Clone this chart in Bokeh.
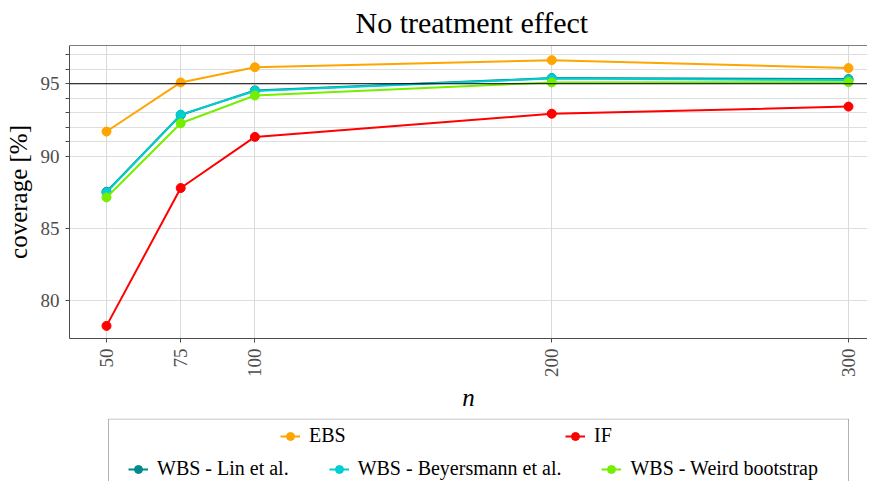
import math
from bokeh.plotting import figure
from bokeh.models import (FixedTicker, Span, Legend, LegendItem, ColumnDataSource, Range1d, BoxAnnotation)
from bokeh.layouts import column
from bokeh.embed import file_html
from bokeh.resources import INLINE

# ---- data ----
n = [50, 75, 100, 200, 300]
ebs = [91.70, 95.09, 96.14, 96.63, 96.08]
inf_fun = [78.28, 87.80, 91.33, 92.93, 93.42]
wbs_lin = [87.54, 92.84, 94.54, 95.39, 95.32]
wbs_bey = [87.50, 92.87, 94.50, 95.36, 95.25]
wbs_weird = [87.15, 92.27, 94.19, 95.09, 95.11]

series_names = ["EBS", "IF", "WBS - Lin et al.", "WBS - Beyersmann et al.", "WBS - Weird bootstrap"]
series_values = [ebs, inf_fun, wbs_lin, wbs_bey, wbs_weird]
series_colors = ["#FFA500", "#FF0000", "#008B8B", "#00CED1", "#76EE00"]

y_ticks = [80, 85, 90, 91, 92, 93, 94, 95, 96, 97]
y_tick_labels = {80: "80", 85: "85", 90: "90", 95: "95"}
x_ticks = [50, 75, 100, 200, 300]
target = 95

title = "No treatment effect"
x_label = "n"
y_label = "coverage [%]"

X_RANGE = (37.53, 306.4)
Y_RANGE = (77.41, 97.64)

SERIF = "'Liberation Serif', serif"

p = figure(width=867, height=418, x_range=Range1d(*X_RANGE), y_range=Range1d(*Y_RANGE),
           output_backend="svg", toolbar_location=None,
           min_border_left=69, min_border_right=0, min_border_top=44, min_border_bottom=80,
           title=title)
p.outline_line_color = None
p.background_fill_color = "white"

p.title.align = "left"
p.title.offset = 286
p.title.text_font = SERIF
p.title.text_font_size = "30px"
p.title.text_font_style = "normal"
p.title.text_color = "black"
p.title.standoff = 10
p.title.vertical_align = "top"

# axes
p.yaxis.ticker = FixedTicker(ticks=y_ticks)
p.yaxis.major_label_overrides = {t: y_tick_labels.get(t, "") for t in y_ticks}
p.xaxis.ticker = FixedTicker(ticks=x_ticks)
p.xaxis.major_label_orientation = math.pi / 2
for ax in (p.xaxis, p.yaxis):
    ax.axis_line_color = "#4d4d4d"
    ax.major_tick_line_color = "#4d4d4d"
    ax.major_tick_out = 4
    ax.major_tick_in = 0
    ax.minor_tick_line_color = None
    ax.major_label_text_font = SERIF
    ax.major_label_text_font_size = "19px"
    ax.major_label_text_font_style = "normal"
    ax.major_label_text_color = "#4d4d4d"
    ax.axis_label_text_font = SERIF
    ax.axis_label_text_font_size = "25px"
    ax.axis_label_text_color = "black"
    ax.major_label_standoff = 6
p.yaxis.axis_label = y_label
p.yaxis.axis_label_text_font_style = "normal"
p.yaxis.axis_label_standoff = 6
p.xaxis.axis_label = x_label
p.xaxis.axis_label_text_font_style = "italic"
p.xaxis.axis_label_standoff = 4

p.xgrid.grid_line_color = "#d9d9d9"
p.ygrid.grid_line_color = "#dedede"

# top border and target line
p.add_layout(Span(location=Y_RANGE[1], dimension="width", line_color="black", line_width=1.2))
p.add_layout(Span(location=target, dimension="width", line_color="black", line_width=1))

for name, vals, col in zip(series_names, series_values, series_colors):
    src = ColumnDataSource(dict(x=n, y=vals))
    p.line("x", "y", source=src, line_color=col, line_width=2)
    p.scatter("x", "y", source=src, size=9, fill_color=col, line_color=col)

# ---- legend panel (frame aligned with the main plot; ranges in pixels) ----
p2 = figure(width=867, height=63, x_range=Range1d(0, 798), y_range=Range1d(0, 63),
            output_backend="svg", toolbar_location=None,
            x_axis_location=None, y_axis_location=None,
            min_border_left=69, min_border_right=0, min_border_top=0, min_border_bottom=0)
p2.grid.visible = False
p2.outline_line_color = None
p2.add_layout(BoxAnnotation(left=39, right=779, bottom=-5, top=62.5,
                            fill_alpha=0, line_color="black", line_width=1))

items = []
for name, vals, col in zip(series_names, series_values, series_colors):
    src = ColumnDataSource(dict(x=n, y=vals))
    r1 = p2.line("x", "y", source=src, line_color=col, line_width=2, visible=False)
    r2 = p2.scatter("x", "y", source=src, size=8, fill_color=col, line_color=col, visible=False)
    items.append(LegendItem(label=name, renderers=[r1, r2]))

common = dict(orientation="horizontal", border_line_color=None, background_fill_alpha=0,
              padding=0, margin=0, glyph_width=20, glyph_height=20, label_standoff=9,
              label_text_font=SERIF, label_text_font_size="20px", label_text_color="black",
              label_height=20)
leg1 = Legend(items=items[:2], location=(211, 34), spacing=0, label_width=256, **common)
leg2 = Legend(items=items[2:], location=(59, 1), spacing=40, **common)
p2.add_layout(leg1)
p2.add_layout(leg2)

layout = column(p, p2, spacing=0)
open("out.html", "w").write(file_html(layout, INLINE))
